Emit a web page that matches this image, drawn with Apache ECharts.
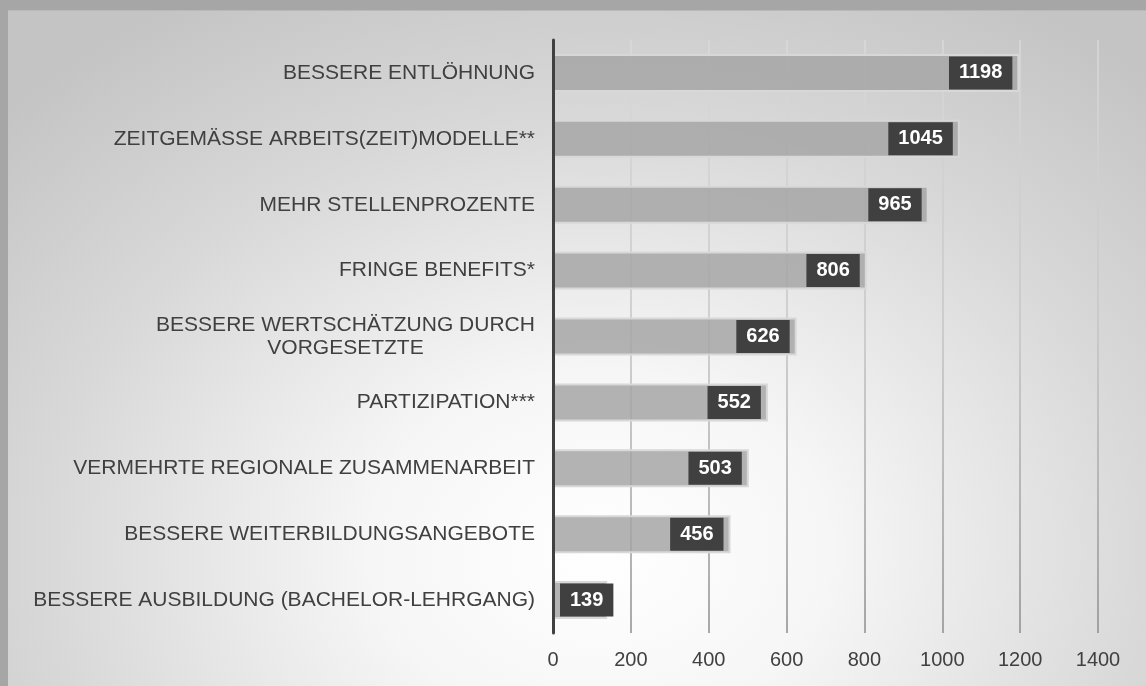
<!DOCTYPE html>
<html>
<head>
<meta charset="utf-8">
<script src="https://cdn.jsdelivr.net/npm/echarts@6/dist/echarts.min.js"></script>
<style>
  html, body { margin: 0; padding: 0; width: 1146px; height: 686px; overflow: hidden; background: #a6a6a6; }
  #myCharts {
    position: absolute; left: 8px; top: 10px; width: 1138px; height: 676px;
    border-top: 1px solid #b9b9b9;
    box-sizing: border-box;
    background: radial-gradient(ellipse 72% 95% at 52% 80%, #ffffff 0%, #f6f6f6 28%, #d8d8d8 68%, #c4c4c4 100%);
  }
</style>
</head>
<body>
<div id="myCharts"></div>
<script>
// 类别（从上到下）
const categories = [
  "BESSERE ENTLÖHNUNG",
  "ZEITGEMÄSSE ARBEITS(ZEIT)MODELLE**",
  "MEHR STELLENPROZENTE",
  "FRINGE BENEFITS*",
  "BESSERE WERTSCHÄTZUNG DURCH\nVORGESETZTE",
  "PARTIZIPATION***",
  "VERMEHRTE REGIONALE ZUSAMMENARBEIT",
  "BESSERE WEITERBILDUNGSANGEBOTE",
  "BESSERE AUSBILDUNG (BACHELOR-LEHRGANG)",
];
const values = [1198, 1045, 965, 806, 626, 552, 503, 456, 139];
const xTicks = [0, 200, 400, 600, 800, 1000, 1200, 1400];

const FONT = "Liberation Sans, Arial, sans-serif";
const CAT_SIZE = 21;

// 两行标签的宽度（居中对齐用）
const ctx = document.createElement("canvas").getContext("2d");
ctx.font = CAT_SIZE + "px " + FONT;
const multiWidth = Math.ceil(ctx.measureText("BESSERE WERTSCHÄTZUNG DURCH").width);

const myCharts = echarts.init(document.getElementById("myCharts"), null, { renderer: "canvas" });

let option = {
  backgroundColor: "transparent",
  animation: false,
  textStyle: { fontFamily: FONT },
  grid: {
    left: 545,
    right: 48,
    top: 29,
    bottom: 53,
  },
  xAxis: {
    type: "value",
    min: xTicks[0],
    max: xTicks[xTicks.length - 1],
    interval: xTicks[1] - xTicks[0],
    axisLine: { show: false },
    axisTick: { show: false },
    axisLabel: {
      color: "#404040",
      fontSize: 20,
      margin: 17,
      fontFamily: FONT,
      formatter: function (v) {
        return String(v); // 不要千位分隔符
      },
    },
    splitLine: {
      lineStyle: {
        width: 1.5,
        color: new echarts.graphic.LinearGradient(0, 0, 0, 1, [
          { offset: 0, color: "#dadada" },
          { offset: 0.5, color: "#c4c4c4" },
          { offset: 1, color: "#8c8c8c" },
        ]),
      },
    },
  },
  yAxis: {
    type: "category",
    inverse: true,
    z: 10,
    data: categories,
    axisLine: {
      lineStyle: { color: "#404040", width: 3 },
    },
    axisTick: { show: false },
    axisLabel: {
      color: "#404040",
      fontSize: CAT_SIZE,
      margin: 18,
      fontFamily: FONT,
      formatter: function (v) {
        if (v.indexOf("\n") >= 0) {
          return "{m|" + v.replace("\n", "}\n{m|") + "}";
        }
        return v;
      },
      rich: {
        m: {
          width: multiWidth,
          align: "center",
          fontSize: CAT_SIZE,
          lineHeight: 23,
          color: "#404040",
          fontFamily: FONT,
        },
      },
    },
  },
  series: [
    {
      type: "bar",
      barWidth: 38,
      itemStyle: {
        color: "rgba(166,166,166,0.85)",
        borderColor: "#d8d8d8",
        borderWidth: 2,
      },
      label: {
        show: true,
        position: "insideRight",
        distance: 7,
        color: "#ffffff",
        fontWeight: "bold",
        fontSize: 20,
        fontFamily: FONT,
        backgroundColor: "#404040",
        padding: [7, 10, 6, 10],
      },
      data: values.map(function (v) {
        // 太短的柱子，标签放左边
        if (v < 200) {
          return { value: v, label: { position: "insideLeft" } };
        }
        return v;
      }),
    },
  ],
};

myCharts.setOption(option);
</script>
</body>
</html>
